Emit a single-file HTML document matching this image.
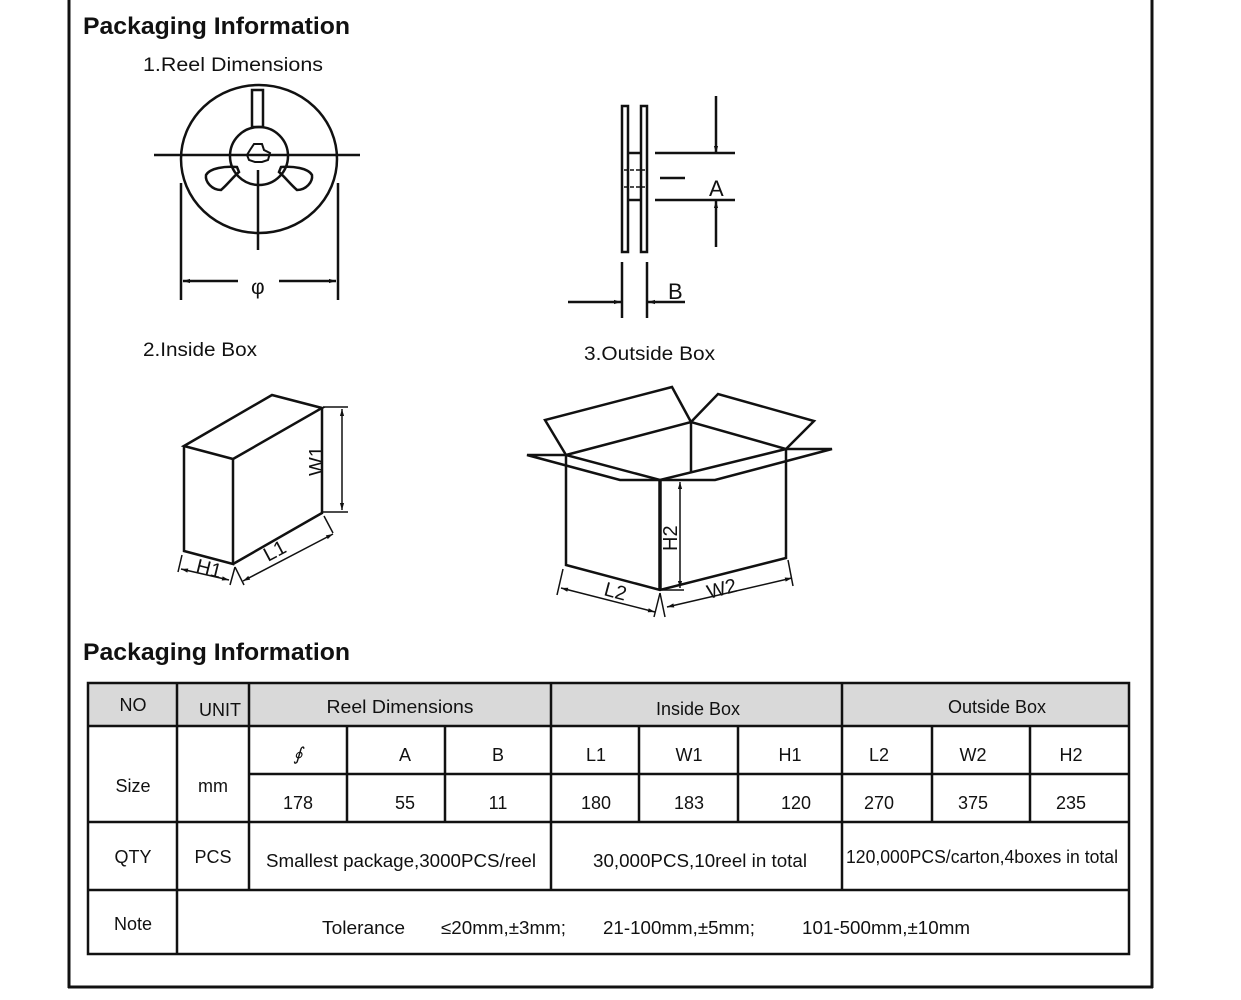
<!DOCTYPE html>
<html><head><meta charset="utf-8"><style>
html,body{margin:0;padding:0;background:#fff;width:1241px;height:1000px;overflow:hidden}
svg{display:block}
text{font-family:"Liberation Sans",sans-serif;fill:#111}
</style></head><body>
<svg width="1241" height="1000" viewBox="0 0 1241 1000" xmlns="http://www.w3.org/2000/svg">
<defs>
<marker id="ar" viewBox="0 0 10 10" refX="10" refY="5" markerWidth="10" markerHeight="7" orient="auto-start-reverse" markerUnits="userSpaceOnUse"><path d="M0,2 L10,5 L0,8 z" fill="#111"/></marker>
<marker id="ar2" viewBox="0 0 10 10" refX="10" refY="5" markerWidth="16" markerHeight="7" orient="auto-start-reverse" markerUnits="userSpaceOnUse"><path d="M0,2 L10,5 L0,8 z" fill="#111"/></marker>
</defs>
<g stroke="#111" stroke-width="3" fill="none">
<line x1="69" y1="0" x2="69" y2="988"/>
<line x1="1152" y1="0" x2="1152" y2="988"/>
<line x1="68" y1="987" x2="1153" y2="987"/>
</g>
<text x="83" y="34" font-size="24" font-weight="bold" textLength="267" lengthAdjust="spacingAndGlyphs">Packaging Information</text>
<text x="143" y="71" font-size="19" textLength="180" lengthAdjust="spacingAndGlyphs">1.Reel  Dimensions</text>
<text x="143" y="356" font-size="19" textLength="114" lengthAdjust="spacingAndGlyphs">2.Inside Box</text>
<text x="584" y="360" font-size="19" textLength="131" lengthAdjust="spacingAndGlyphs">3.Outside Box</text>
<text x="83" y="660" font-size="24" font-weight="bold" textLength="267" lengthAdjust="spacingAndGlyphs">Packaging Information</text>

<g stroke="#111" stroke-width="2.5" fill="none">
<ellipse cx="259" cy="159" rx="78" ry="74"/>
<rect x="252" y="90" width="11" height="37"/>
<circle cx="259" cy="156" r="29"/>
<line x1="154" y1="155" x2="360" y2="155"/>
<line x1="258" y1="170" x2="258" y2="250"/>
<path d="M237,167 C225,166 210,168 206,175 C205,182 212,190 221,190 C228,184 233,177 239,172 z"/>
<path d="M281,167 C293,166 308,168 312,175 C313,182 306,190 297,190 C290,184 285,177 279,172 z"/>
<path d="M250,150 L254,144 L262,144 L264,150 L270,153 L268,160 L262,162 L255,162 L249,160 L247,155 z" stroke-width="2"/>
<line x1="181" y1="183" x2="181" y2="300"/>
<line x1="338" y1="183" x2="338" y2="300"/>
<line x1="183" y1="281" x2="238" y2="281" marker-start="url(#ar2)"/>
<line x1="279" y1="281" x2="336" y2="281" marker-end="url(#ar2)"/>
</g>
<text x="251" y="294" font-size="21">φ</text>

<g stroke="#111" stroke-width="2.5" fill="none">
<rect x="622" y="106" width="6" height="146"/>
<rect x="641" y="106" width="6" height="146"/>
<line x1="628" y1="153" x2="641" y2="153"/>
<line x1="628" y1="200" x2="641" y2="200"/>
<line x1="655" y1="153" x2="735" y2="153"/>
<line x1="655" y1="200" x2="735" y2="200"/>
<line x1="660" y1="178" x2="685" y2="178"/>
<line x1="716" y1="96" x2="716" y2="153" marker-end="url(#ar2)"/>
<line x1="716" y1="247" x2="716" y2="201" marker-end="url(#ar2)"/>
<line x1="622" y1="262" x2="622" y2="318"/>
<line x1="647" y1="262" x2="647" y2="318"/>
<line x1="568" y1="302" x2="621" y2="302" marker-end="url(#ar2)"/>
<line x1="685" y1="302" x2="648" y2="302" marker-end="url(#ar2)"/>
</g>
<g stroke="#111" stroke-width="1.5" stroke-dasharray="4,2"><line x1="624" y1="170" x2="645" y2="170"/><line x1="624" y1="187" x2="645" y2="187"/></g>
<text x="709" y="196" font-size="22">A</text>
<text x="668" y="299" font-size="22">B</text>

<g stroke="#111" stroke-width="2.5" fill="none">
<path d="M184,446 L233,459 L322,408 L272,395 z"/>
<path d="M184,446 L184,551 L233,564 L233,459"/>
<path d="M233,564 L322,513 L322,408"/>
<line x1="323" y1="407" x2="348" y2="407" stroke-width="1.5"/>
<line x1="323" y1="512" x2="348" y2="512" stroke-width="1.5"/>
<line x1="342" y1="409" x2="342" y2="510" marker-start="url(#ar)" marker-end="url(#ar)" stroke-width="1.5"/>
<line x1="182" y1="555" x2="178" y2="572" stroke-width="1.5"/>
<line x1="235" y1="567" x2="230" y2="585" stroke-width="1.5"/>
<line x1="181" y1="569" x2="229" y2="580" marker-start="url(#ar)" marker-end="url(#ar)" stroke-width="1.5"/>
<line x1="235" y1="567" x2="244" y2="585" stroke-width="1.5"/>
<line x1="324" y1="516" x2="333" y2="533" stroke-width="1.5"/>
<line x1="243" y1="581" x2="333" y2="534" marker-start="url(#ar)" marker-end="url(#ar)" stroke-width="1.5"/>
</g>
<text x="0" y="0" font-size="20" transform="translate(323,476) rotate(-90)">W1</text>
<text x="0" y="0" font-size="20" transform="translate(195,572) rotate(14)">H1</text>
<text x="0" y="0" font-size="20" transform="translate(268,562) rotate(-28)">L1</text>

<g stroke="#111" stroke-width="2.5" fill="none">
<path d="M566,455 L691,422 L786,449 L660,480 z"/>
<path d="M566,455 L545,420 L672,387 L691,422"/>
<path d="M691,422 L718,394 L814,421 L786,449"/>
<path d="M566,455 L527,455 L620,480 L660,480"/>
<path d="M786,449 L832,449 L715,480 L660,480"/>
<line x1="691" y1="422" x2="691" y2="472"/>
<path d="M566,455 L566,565 L660,590 L786,558 L786,449"/>
<line x1="660" y1="480" x2="660" y2="590" stroke-width="3.5"/>
<line x1="680" y1="482" x2="680" y2="588" marker-start="url(#ar)" marker-end="url(#ar)" stroke-width="1.5"/>
<line x1="662" y1="590" x2="684" y2="590" stroke-width="1.5"/>
<line x1="563" y1="569" x2="557" y2="595" stroke-width="1.5"/>
<line x1="561" y1="588" x2="655" y2="612" marker-start="url(#ar)" marker-end="url(#ar)" stroke-width="1.5"/>
<line x1="660" y1="593" x2="654" y2="617" stroke-width="1.5"/>
<line x1="660" y1="593" x2="665" y2="617" stroke-width="1.5"/>
<line x1="788" y1="560" x2="793" y2="586" stroke-width="1.5"/>
<line x1="667" y1="607" x2="792" y2="578" marker-start="url(#ar)" marker-end="url(#ar)" stroke-width="1.5"/>
</g>
<text x="0" y="0" font-size="20" transform="translate(677,551) rotate(-90)">H2</text>
<text x="0" y="0" font-size="20" transform="translate(603,595) rotate(15)">L2</text>
<text x="0" y="0" font-size="20" transform="translate(709,599) rotate(-15)">W2</text>

<rect x="88" y="683" width="1041" height="43" fill="#d9d9d9"/>
<g stroke="#111" stroke-width="2.5" fill="none">
<rect x="88" y="683" width="1041" height="271"/>
<line x1="88" y1="726" x2="1129" y2="726"/>
<line x1="88" y1="822" x2="1129" y2="822"/>
<line x1="88" y1="890" x2="1129" y2="890"/>
<line x1="249" y1="774" x2="1129" y2="774"/>
<line x1="177" y1="683" x2="177" y2="954"/>
<line x1="249" y1="683" x2="249" y2="890"/>
<line x1="551" y1="683" x2="551" y2="890"/>
<line x1="842" y1="683" x2="842" y2="890"/>
<line x1="347" y1="726" x2="347" y2="822"/>
<line x1="445" y1="726" x2="445" y2="822"/>
<line x1="639" y1="726" x2="639" y2="822"/>
<line x1="738" y1="726" x2="738" y2="822"/>
<line x1="932" y1="726" x2="932" y2="822"/>
<line x1="1030" y1="726" x2="1030" y2="822"/>
</g>
<g font-size="18" text-anchor="middle">
<text x="133" y="711">NO</text>
<text x="220" y="716">UNIT</text>
<text x="400" y="713" textLength="147" lengthAdjust="spacingAndGlyphs">Reel  Dimensions</text>
<text x="698" y="715">Inside Box</text>
<text x="997" y="713">Outside Box</text>
<text x="133" y="792">Size</text>
<text x="213" y="792">mm</text>
<text x="298" y="760" font-style="italic" font-family="Liberation Serif">∮</text>
<text x="405" y="761">A</text>
<text x="498" y="761">B</text>
<text x="596" y="761">L1</text>
<text x="689" y="761">W1</text>
<text x="790" y="761">H1</text>
<text x="879" y="761">L2</text>
<text x="973" y="761">W2</text>
<text x="1071" y="761">H2</text>
<text x="298" y="809">178</text>
<text x="405" y="809">55</text>
<text x="498" y="809">11</text>
<text x="596" y="809">180</text>
<text x="689" y="809">183</text>
<text x="796" y="809">120</text>
<text x="879" y="809">270</text>
<text x="973" y="809">375</text>
<text x="1071" y="809">235</text>
<text x="133" y="863">QTY</text>
<text x="213" y="863">PCS</text>
<text x="401" y="867" textLength="270" lengthAdjust="spacingAndGlyphs">Smallest package,3000PCS/reel</text>
<text x="700" y="867" textLength="214" lengthAdjust="spacingAndGlyphs">30,000PCS,10reel in total</text>
<text x="982" y="863" textLength="272" lengthAdjust="spacingAndGlyphs">120,000PCS/carton,4boxes in total</text>
<text x="133" y="930">Note</text>
</g>
<g font-size="18">
<text x="322" y="934" textLength="83" lengthAdjust="spacingAndGlyphs">Tolerance</text>
<text x="441" y="934" textLength="125" lengthAdjust="spacingAndGlyphs">≤20mm,±3mm;</text>
<text x="603" y="934" textLength="152" lengthAdjust="spacingAndGlyphs">21-100mm,±5mm;</text>
<text x="802" y="934" textLength="168" lengthAdjust="spacingAndGlyphs">101-500mm,±10mm</text>
</g>
</svg>
</body></html>
